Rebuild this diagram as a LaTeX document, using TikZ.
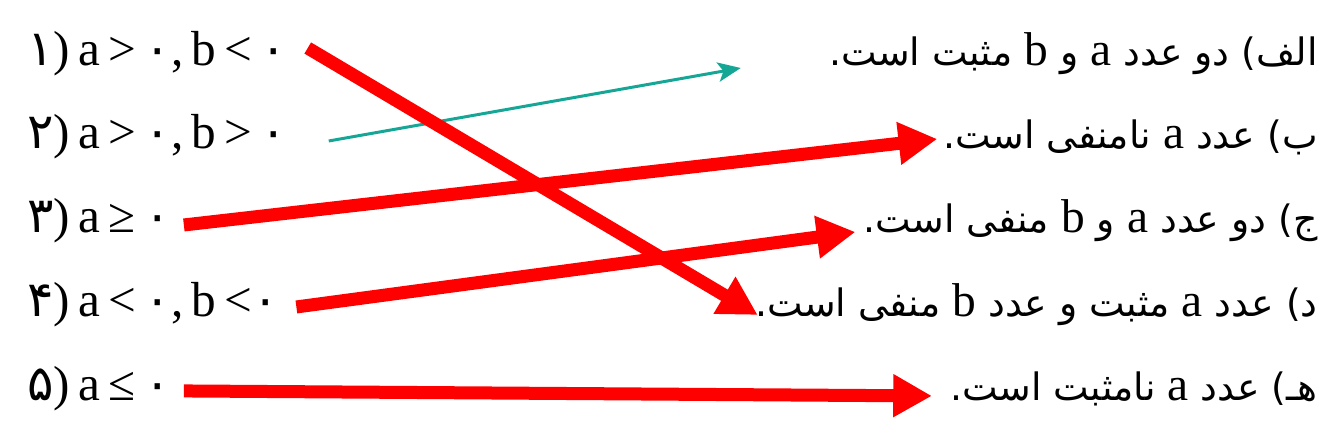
\documentclass[tikz,border=0pt]{standalone}
\usepackage{fontspec}
\setmainfont{Liberation Serif}
\newfontfamily\fafont[Script=Arabic]{DejaVu Sans}
\TeXXeTstate=1
\usetikzlibrary{positioning,calc}
\usetikzlibrary{arrows.meta}
\definecolor{tealline}{RGB}{22,166,150}
\newcommand{\fa}[1]{{\fafont #1}}
\newcommand{\la}[1]{{\fontsize{27}{30}\rmfamily #1}}
\newcommand{\tightsp}{\spaceskip=0.17em\relax}

\begin{document}
\begin{tikzpicture}[x=0.02cm,y=-0.02cm,
      cond/.style={anchor=base west,inner sep=0pt,font=\fontsize{28}{34}\selectfont,execute at begin node=\tightsp},
      claim/.style={anchor=base east,inner sep=0pt,font=\fontsize{21.5}{30}\fafont},
      match/.style={draw=red,line width=7.4pt,-{Triangle[length=22pt,width=23pt]}},
      hint/.style={draw=tealline,line width=1.7pt,-{Stealth[length=13pt,width=11pt,inset=3pt]}}]
   \useasboundingbox (0,0) rectangle (1333,434);

   \node[cond] (c1) at (27,65) {\fa{۱}) a > \fa{۰}, b < \fa{۰}};
   \node[below=1.68cm of c1.base west,cond] (c2) {\fa{۲}) a > \fa{۰}, b > \fa{۰}};
   \node[below=1.68cm of c2.base west,cond] (c3) {\fa{۳}) a ≥ \fa{۰}};
   \node[below=1.68cm of c3.base west,cond] (c4) {\fa{۴}) a < \fa{۰}, b <\fa{۰}};
   \node[below=1.68cm of c4.base west,cond] (c5) {\fa{۵}) a ≤ \fa{۰}};

   \node[claim] (m1) at (1318,65) {\beginR الف) دو عدد \la{a} و \la{b} مثبت است.\endR};
   \node[below=1.68cm of m1.base east,claim] (m2) {\beginR ب) عدد \la{a} نامنفی است.\endR};
   \node[below=1.68cm of m2.base east,claim] (m3) {\beginR ج) دو عدد \la{a} و \la{b} منفی است.\endR};
   \node[below=1.68cm of m3.base east,claim] (m4) {\beginR د) عدد \la{a} مثبت و عدد \la{b} منفی است.\endR};
   \node[below=1.68cm of m4.base east,claim] (m5) {\beginR هـ) عدد \la{a} نامثبت است.\endR};

   \draw[hint] ($(c2.base east)+(41,-8)$) -- ($(m1.base west)+(-88,3)$);
   \draw[match] ($(c1.base east)+(20,-17)$) -- ($(m4.base west)+(3,-2)$);
   \draw[match] ($(c3.base east)+(13,-8)$) -- ($(m2.base west)+(-6,-10)$);
   \draw[match] ($(c4.base east)+(17,-10)$) -- ($(m3.base west)+(-8,-1)$);
   \draw[match] ($(c5.base east)+(13,-10)$) -- ($(m5.base west)+(-18,-5)$);
\end{tikzpicture}
\end{document}
